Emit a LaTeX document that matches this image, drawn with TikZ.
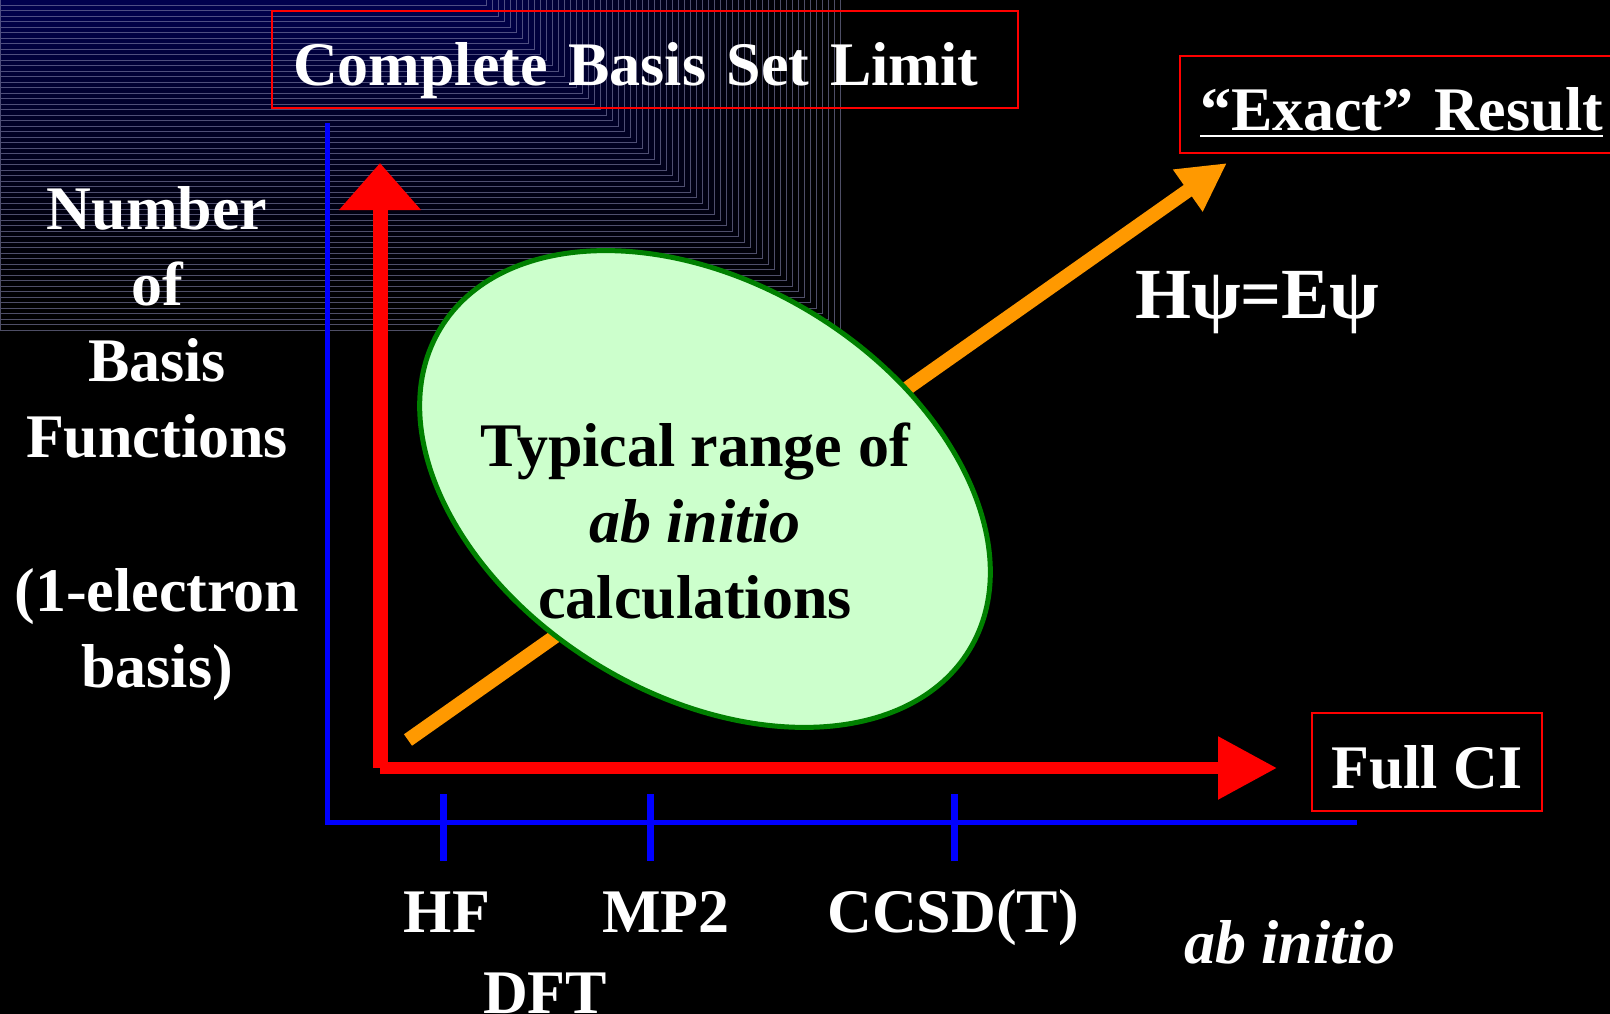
\documentclass[tikz,border=0pt]{standalone}
\usepackage{fontspec}
\setmainfont{Liberation Serif}
\usetikzlibrary{arrows.meta,shapes.geometric}
\definecolor{bgnavy}{RGB}{0,0,80}
\definecolor{stripe}{RGB}{130,130,170}
\definecolor{arroworange}{RGB}{255,153,0}
\definecolor{rangefill}{RGB}{204,255,204}
\definecolor{rangeline}{RGB}{0,128,0}
\tikzset{
	redbox/.style={draw=red, line width=2pt, text=white, inner xsep=0pt, inner ysep=0pt, text height=55pt, text depth=3pt},
	axis/.style={draw=blue, line width=5pt},
	axistick/.style={draw=blue, line width=7pt},
	redarrow/.style={draw=red, fill=red, line width=15pt},
	whitetext/.style={text=white, inner sep=0pt}
}
\newcommand{\ulbox}[1]{\setbox0=\hbox{#1}\rlap{\rule[-6.7pt]{\wd0}{2.4pt}}\box0}

\begin{document}
\begin{tikzpicture}[x=1pt, y=-1pt, font=\fontsize{62}{76}\selectfont\bfseries]
		%%%%% START %%%%%
		
		\clip (0,0) rectangle (1610,1014);
		\fill[black] (0,0) rectangle (1610,1014);
		
		% shaded corner
		\foreach \i in {0,...,60}{
			\pgfmathsetmacro\shade{100*(\i/60)^1.5}
			\colorlet{cornerfill}{bgnavy!\shade!black}
			\colorlet{cornerline}{stripe!60!cornerfill}
			\draw[cornerline, fill=cornerfill, line width=1pt] (0,0) rectangle ({840-6*\i},{330-5.5*\i});
		}
		
		\draw[axis] (327,123) |- (1357,822);
		\foreach \x in {443,650,954}
			\draw[axistick] (\x,794) -- (\x,861);
		
		\coordinate (corner) at (380,768);
		\coordinate (basistop) at (380,163);
		\coordinate (citip) at (1277,768);
		\coordinate (exactstart) at (408,740);
		\coordinate (exacttip) at (1227,163);
		
		\draw[redarrow, -{Triangle[length=47pt, width=79pt]}] (corner) -- (basistop);
		\draw[redarrow, line width=12pt, -{Triangle[length=59pt, width=60pt]}] (corner) -- (citip);
		\draw[arroworange, line width=14pt, -{Triangle[length=48pt, width=48pt]}] (exactstart) -- (exacttip);
		
		\node[ellipse, rotate=-31.3, draw=rangeline, fill=rangefill, line width=5pt, minimum width=619pt, minimum height=412pt, inner sep=0pt] (range) at (705,489) {};
		\node[align=center, anchor=north, inner sep=0pt] (rangetext) at (695,423) {Typical range of\\\textit{ab initio}\hspace*{12pt}\\calculations};
		
		\node[redbox, anchor=north west, minimum height=97pt, text width=704pt, inner xsep=21pt, align=left] (cbs) at (271,10) {Complete Basis Set Limit};
		\node[redbox, anchor=north west, minimum height=97pt, text width=440pt, inner xsep=20pt, align=left] (exact) at (1179,55) {\ulbox{“Exact” Result}};
		\node[redbox, minimum width=230pt, minimum height=98pt] (fullci) at (1427,762) {Full CI};
		
		\node[whitetext, align=center, anchor=north] (numbasis) at (157,186) {Number\\of\\Basis\\Functions\\[78pt](1-electron\\basis)};
		\node[whitetext, anchor=base west, font=\fontsize{72}{80}\selectfont\bfseries] (schrodinger) at (1135,318) {Hψ=Eψ};
		
		\node[whitetext, anchor=base] (hf) at (447,932) {HF};
		\node[whitetext, anchor=base] (dft) at (545,1013) {DFT};
		\node[whitetext, anchor=base] (mp2) at (666,932) {MP2};
		\node[whitetext, anchor=base] (ccsdt) at (953,932) {CCSD(T)};
		\node[whitetext, anchor=base, font=\fontsize{62}{76}\selectfont\bfseries\itshape] (abinitio) at (1290,963) {ab initio};
		
		%%%%% END %%%%%
	\end{tikzpicture}
\end{document}
